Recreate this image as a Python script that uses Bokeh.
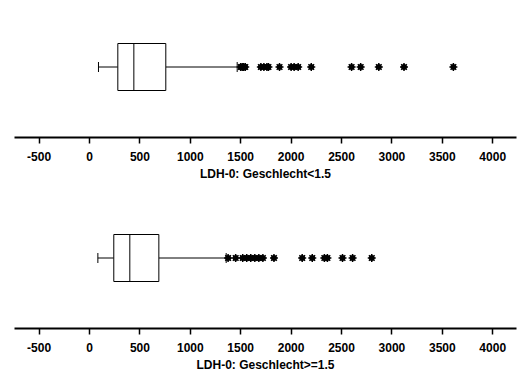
from bokeh.plotting import figure
from bokeh.layouts import column
from bokeh.models import Range1d, FixedTicker
from bokeh.embed import file_html
from bokeh.resources import INLINE

titles = ["LDH-0: Geschlecht<1.5", "LDH-0: Geschlecht>=1.5"]
lower_whisker = [89, 83]
q1 = [281, 241]
median = [440, 400]
q3 = [757, 688]
upper_whisker = [1465, 1356]
outliers = [
    [1500, 1515, 1530, 1545, 1700, 1730, 1760, 1775, 1885, 2000, 2030, 2070,
     2200, 2600, 2690, 2870, 3120, 3610],
    [1375, 1450, 1520, 1560, 1600, 1640, 1680, 1720, 1830, 2110, 2210, 2330,
     2360, 2510, 2610, 2800],
]
ticks = [-500, 0, 500, 1000, 1500, 2000, 2500, 3000, 3500, 4000]
tick_labels = ["-500", "0", "500", "1000", "1500", "2000", "2500", "3000", "3500", "4000"]

FONT = "Liberation Sans"
YC = 70.5
HALF = 23.5
CAP = 5

figs = []
for i in range(2):
    p = figure(width=525, height=191, output_backend="svg", toolbar_location=None,
               x_range=Range1d(-744, 4236), y_range=Range1d(0, 137),
               min_border_left=14, min_border_right=9, min_border_top=0,
               min_border_bottom=54)
    p.outline_line_color = None
    p.grid.visible = False
    p.yaxis.visible = False
    p.background_fill_color = "white"
    p.border_fill_color = "white"

    ax = p.xaxis[0]
    ax.ticker = FixedTicker(ticks=ticks)
    ax.major_label_overrides = {t: l for t, l in zip(ticks, tick_labels)}
    ax.minor_tick_line_color = None
    ax.major_tick_in = 0
    ax.major_tick_out = 6
    ax.major_tick_line_width = 1.5
    ax.axis_line_width = 2
    ax.axis_line_color = "black"
    ax.major_tick_line_color = "black"
    ax.major_label_text_font = FONT
    ax.major_label_text_font_style = "bold"
    ax.major_label_text_font_size = "12px"
    ax.major_label_text_color = "black"
    ax.major_label_standoff = 8
    ax.axis_label = titles[i]
    ax.axis_label_text_font = FONT
    ax.axis_label_text_font_style = "bold"
    ax.axis_label_text_font_size = "12px"
    ax.axis_label_text_color = "black"
    ax.axis_label_standoff = 3

    # whiskers
    p.segment(x0=[lower_whisker[i], q3[i]], y0=[YC, YC],
              x1=[q1[i], upper_whisker[i]], y1=[YC, YC],
              line_color="black", line_width=1)
    p.segment(x0=[lower_whisker[i], upper_whisker[i]], y0=[YC - CAP, YC - CAP],
              x1=[lower_whisker[i], upper_whisker[i]], y1=[YC + CAP, YC + CAP],
              line_color="black", line_width=1)
    # box
    p.quad(left=[q1[i]], right=[q3[i]], bottom=[YC - HALF], top=[YC + HALF],
           fill_color="white", line_color="black", line_width=1)
    p.segment(x0=[median[i]], y0=[YC - HALF], x1=[median[i]], y1=[YC + HALF],
              line_color="black", line_width=1)
    # outliers
    ys = [YC] * len(outliers[i])
    p.scatter(outliers[i], ys, marker="circle", size=5, fill_color="black",
              line_color="black")
    p.scatter(outliers[i], ys, marker="asterisk", size=8, line_color="black",
              line_width=1.5)
    figs.append(p)

layout = column(*figs, spacing=0)
open("out.html", "w").write(file_html(layout, INLINE))
